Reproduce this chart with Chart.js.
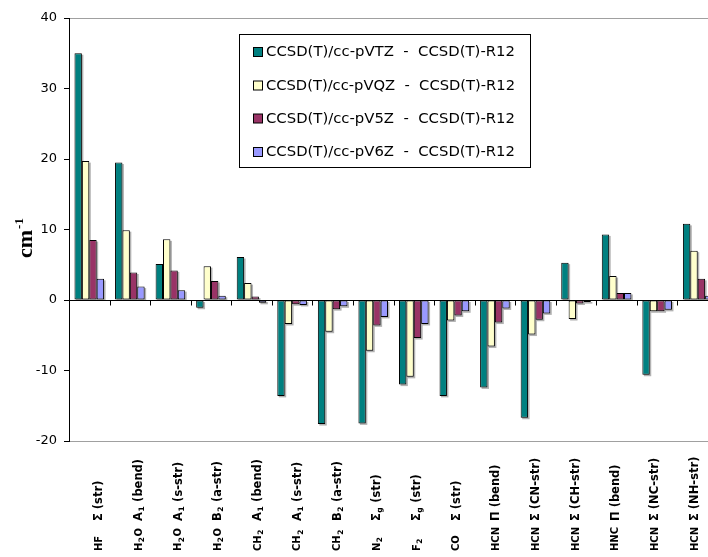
<!DOCTYPE html>
<html>
<head>
<meta charset="utf-8">
<script src="https://cdn.jsdelivr.net/npm/chart.js@4/dist/chart.umd.min.js"></script>
<style>
  html, body { margin: 0; padding: 0; background: #fff; }
  #wrap { width: 708px; height: 557px; overflow: hidden; position: relative; }
  canvas { display: block; }
</style>
</head>
<body>
<div id="wrap"><canvas id="c" width="720" height="557"></canvas></div>
<script>
// Molecule and vibrational mode for each category ("_x" marks a subscript character)
const molecules = ['HF', 'H_2O', 'H_2O', 'H_2O', 'CH_2', 'CH_2', 'CH_2', 'N_2', 'F_2', 'CO',
                   'HCN', 'HCN', 'HCN', 'HNC', 'HCN', 'HCN'];
const modes = ['Σ (str)', 'A_1 (bend)', 'A_1 (s-str)', 'B_2 (a-str)', 'A_1 (bend)', 'A_1 (s-str)',
               'B_2 (a-str)', 'Σ_g (str)', 'Σ_g (str)', 'Σ (str)', 'Π (bend)', 'Σ (CN-str)',
               'Σ (CH-str)', 'Π (bend)', 'Σ (NC-str)', 'Σ (NH-str)'];

// Differences relative to CCSD(T)-R12, in cm-1
const seriesNames = [
  'CCSD(T)/cc-pVTZ  -  CCSD(T)-R12',
  'CCSD(T)/cc-pVQZ  -  CCSD(T)-R12',
  'CCSD(T)/cc-pV5Z  -  CCSD(T)-R12',
  'CCSD(T)/cc-pV6Z  -  CCSD(T)-R12'
];
const vtz = [35.0, 19.5, 5.1, -1.1, 6.1, -13.6, -17.6, -17.5, -12.0, -13.6, -12.4, -16.7, 5.3, 9.3, -10.6, 10.8];
const vqz = [19.7, 9.9, 8.6, 4.8, 2.4, -3.4, -4.5, -7.2, -10.9, -2.9, -6.6, -4.9, -2.7, 3.4, -1.6, 7.0];
const v5z = [8.5, 3.9, 4.2, 2.7, 0.5, -0.6, -1.3, -3.6, -5.4, -2.2, -3.2, -2.8, -0.5, 1.0, -1.6, 3.0];
const v6z = [3.0, 1.9, 1.4, 0.6, -0.4, -0.7, -0.9, -2.4, -3.4, -1.6, -1.2, -1.9, -0.3, 1.0, -1.4, 0.6];

const yTicks = [-20, -10, 0, 10, 20, 30, 40];
const colors = ['#008080', '#FFFFCC', '#993366', '#9999FF'];

const moleculeFont = 'bold 10px "DejaVu Sans"';
const modeFont = 'bold 11.5px "DejaVu Sans"';
const subFont = 'bold 7.5px "DejaVu Sans"';

// Draw a string containing "_x" subscripts along the current baseline, returns advance
function drawRich(ctx, text, x, y, font, smallFont) {
  let pos = x;
  for (let i = 0; i < text.length; i++) {
    const ch = text[i];
    if (ch === '_' && i + 1 < text.length) {
      const s = text[++i];
      ctx.font = smallFont;
      ctx.fillText(s, pos + 0.5, y + 3);
      pos += ctx.measureText(s).width + 1;
    } else {
      ctx.font = font;
      ctx.fillText(ch, pos, y);
      pos += ctx.measureText(ch).width;
    }
  }
  return pos - x;
}

// Grey drop shadow offset to the lower right of every bar
const barShadow = {
  id: 'barShadow',
  beforeDatasetsDraw(chart) {
    const ctx = chart.ctx;
    ctx.save();
    ctx.fillStyle = 'rgba(0,0,0,0.3)';
    chart.data.datasets.forEach((ds, k) => {
      chart.getDatasetMeta(k).data.forEach(bar => {
        const p = bar.getProps(['x', 'y', 'base', 'width'], true);
        const top = Math.min(p.y, p.base), bottom = Math.max(p.y, p.base);
        ctx.fillRect(p.x - p.width / 2 + 1.5, top + 1.5, p.width, bottom - top);
      });
    });
    ctx.restore();
  }
};

// Category tick marks on the zero line, rotated category labels, axis title and legend
const decorations = {
  id: 'decorations',
  afterDraw(chart) {
    const ctx = chart.ctx;
    const x = chart.scales.x;
    const y = chart.scales.y;
    const area = chart.chartArea;
    const zeroY = Math.round(y.getPixelForValue(0)) + 0.5;
    const step = x.getPixelForValue(1) - x.getPixelForValue(0);

    ctx.save();
    // tick marks between categories, hanging below the zero line
    ctx.strokeStyle = '#000';
    ctx.lineWidth = 1;
    ctx.beginPath();
    for (let i = 0; i <= molecules.length; i++) {
      const px = Math.round(x.getPixelForValue(i) - step / 2) + 0.5;
      ctx.moveTo(px, zeroY);
      ctx.lineTo(px, zeroY + 5);
    }
    ctx.stroke();

    // category labels, reading bottom to top
    ctx.fillStyle = '#000';
    ctx.textBaseline = 'middle';
    ctx.textAlign = 'left';
    for (let i = 0; i < molecules.length; i++) {
      const cx = x.getPixelForValue(i) + 10 - 0.84 * i;
      ctx.save();
      ctx.translate(cx, area.bottom + 110);
      ctx.rotate(-Math.PI / 2);
      drawRich(ctx, molecules[i], 0, 0, moleculeFont, subFont);
      drawRich(ctx, modes[i], 30, 0, modeFont, subFont);
      ctx.restore();
    }

    // y axis title: cm^-1
    ctx.save();
    ctx.translate(32, 258);
    ctx.rotate(-Math.PI / 2);
    ctx.textBaseline = 'alphabetic';
    ctx.font = 'bold 22px "Liberation Serif"';
    ctx.fillText('cm', 0, 0);
    const w = ctx.measureText('cm').width;
    ctx.font = 'bold 13px "Liberation Serif"';
    ctx.fillText('-1', w + 1, -9);
    ctx.restore();

    // legend box
    const lx = 239.5, ly = 34.5, lw = 291, lh = 133;
    ctx.fillStyle = '#fff';
    ctx.fillRect(lx, ly, lw, lh);
    ctx.strokeStyle = '#000';
    ctx.strokeRect(lx, ly, lw, lh);
    const rowY = [52, 85.5, 118.5, 152];
    const textWidth = 249;
    chart.data.datasets.forEach((ds, k) => {
      ctx.fillStyle = ds.backgroundColor;
      ctx.fillRect(253.5, rowY[k] - 4.5, 9, 9);
      ctx.strokeStyle = '#000';
      ctx.strokeRect(253.5, rowY[k] - 4.5, 9, 9);
      ctx.fillStyle = '#000';
      ctx.font = '14px "DejaVu Sans"';
      ctx.textBaseline = 'middle';
      const m = ctx.measureText(ds.label).width;
      ctx.save();
      ctx.translate(266, rowY[k] + 0.5);
      ctx.scale(textWidth / m, 1);
      ctx.fillText(ds.label, 0, 0);
      ctx.restore();
    });
    ctx.restore();
  }
};

const datasets = [vtz, vqz, v5z, v6z].map((vals, k) => ({
  label: seriesNames[k],
  data: vals,
  backgroundColor: colors[k],
  borderColor: '#000',
  borderWidth: 1,
  borderSkipped: false,
  categoryPercentage: 0.73,
  barPercentage: 1.0
}));

new Chart(document.getElementById('c'), {
  type: 'bar',
  data: { labels: molecules.map((m, i) => m + ' ' + modes[i]), datasets },
  options: {
    responsive: false,
    animation: false,
    events: [],
    layout: { padding: { top: 18, bottom: 116, left: 0, right: 2 } },
    plugins: { legend: { display: false }, tooltip: { enabled: false } },
    scales: {
      x: { display: false },
      y: {
        min: -20,
        max: 40,
        afterBuildTicks(scale) { scale.ticks = yTicks.map(v => ({ value: v })); },
        afterFit(scale) { scale.width = 69; },
        border: { display: true, color: '#000', width: 1 },
        grid: {
          drawOnChartArea: true,
          drawTicks: true,
          tickLength: 5,
          tickColor: '#000',
          color(ctx) {
            const v = ctx.tick && ctx.tick.value;
            if (v === 0) return '#000';
            if (v === 40 || v === -20) return '#a0a0a0';
            return 'rgba(0,0,0,0)';
          }
        },
        ticks: {
          color: '#000',
          padding: 7,
          font: { family: '"DejaVu Sans"', size: 13 }
        }
      }
    }
  },
  plugins: [barShadow, decorations]
});
</script>
</body>
</html>
